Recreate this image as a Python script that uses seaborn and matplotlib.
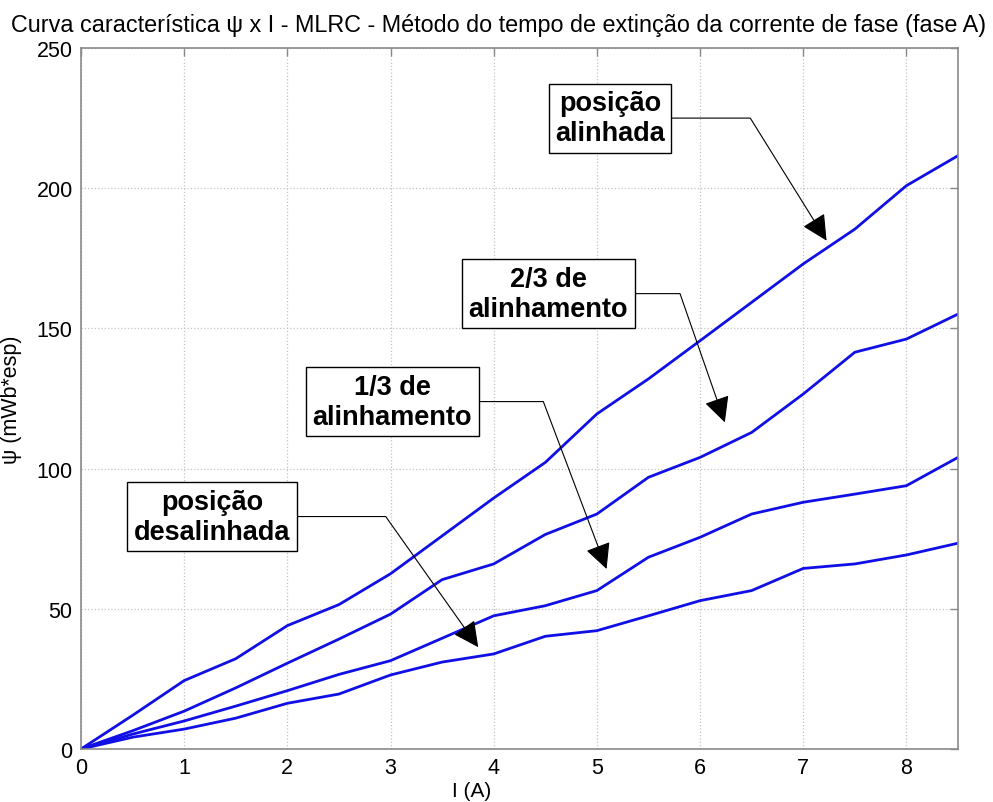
import numpy as np
import pandas as pd
import matplotlib
matplotlib.use("Agg")
import matplotlib.pyplot as plt
import seaborn as sns

# ---- data ----
corrente = [0, 0.5, 1, 1.5, 2, 2.5, 3, 3.5, 4, 4.5, 5, 5.5, 6, 6.5, 7, 7.5, 8, 8.5]
psi_alinhada = [0, 12, 24.4, 32.2, 44, 51.5, 62.5, 76, 89.5, 102.2, 119.5, 132, 145.6, 159.3, 173, 185.4, 200.9, 211.6]
psi_2_3 = [0, 6.5, 13.5, 21.8, 30.6, 39.2, 48.1, 60.4, 66, 76.5, 83.8, 96.9, 104, 112.9, 126.6, 141.5, 146.2, 155.1]
psi_1_3 = [0, 5.3, 10, 15.3, 20.8, 26.6, 31.5, 39.5, 47.5, 51.1, 56.5, 68.4, 75.5, 83.8, 88, 90.9, 93.9, 104]
psi_desalinhada = [0, 4.2, 7.1, 11, 16.3, 19.6, 26.4, 31, 33.9, 40.2, 42.2, 47.5, 52.9, 56.5, 64.4, 66, 69.2, 73.4]

curvas = ["posição alinhada", "2/3 de alinhamento", "1/3 de alinhamento", "posição desalinhada"]
series = [psi_alinhada, psi_2_3, psi_1_3, psi_desalinhada]

x_ticks = [0, 1, 2, 3, 4, 5, 6, 7, 8]
y_ticks = [0, 50, 100, 150, 200, 250]

titulo = "Curva característica ψ x I - MLRC - Método do tempo de extinção da corrente de fase (fase A)"
xlabel = "I (A)"
ylabel = "ψ (mWb*esp)"

# annotation labels
rot_alinhada = "posição\nalinhada"
rot_2_3 = "2/3 de\nalinhamento"
rot_1_3 = "1/3 de\nalinhamento"
rot_desalinhada = "posição\ndesalinhada"

# ---- build long-form table ----
df = pd.concat([
    pd.DataFrame({"I": corrente, "psi": s, "curva": c}) for c, s in zip(curvas, series)
], ignore_index=True)

sns.set_theme(style="white")
plt.rcParams["font.family"] = ["Liberation Sans", "DejaVu Sans"]
plt.rcParams["text.color"] = "black"

fig = plt.figure(figsize=(9.93, 8.03), dpi=100)
ax = fig.add_axes([81 / 993, 53 / 803, 877 / 993, 701 / 803])

azul = "#1010e6"
sns.lineplot(data=df, x="I", y="psi", hue="curva", palette=[azul] * 4,
             legend=False, sort=False, estimator=None, linewidth=2.0, ax=ax)

ax.set_xlim(0, 8.5)
ax.set_ylim(0, 250)
ax.set_xticks(x_ticks)
ax.set_yticks(y_ticks)
ax.grid(True, color="#c4c4c4", linestyle=":", linewidth=0.9)

for sp in ax.spines.values():
    sp.set_visible(True)
    sp.set_color("#8a8a8a")
    sp.set_linewidth(1.2)
ax.tick_params(direction="in", length=6, width=1, color="#8a8a8a",
               top=True, right=True, labelsize=15.5, labelcolor="black", pad=6)

ax.set_xlabel(xlabel, fontsize=15, color="black")
ax.xaxis.set_label_coords(0.445, -0.045)
ax.set_ylabel(ylabel, fontsize=15.5, color="black")
ax.yaxis.set_label_coords(-0.067, 0.5)
fig.text(499 / 993, 1 - 32 / 803, titulo, fontsize=16.8, color="black",
         ha="center", va="baseline")

box = dict(boxstyle="square,pad=0.24", fc="white", ec="black", lw=1)

def anota(txt, tip, centro, ang):
    ax.annotate(txt, xy=tip, xytext=centro, textcoords="data",
                ha="center", va="center", fontsize=19.5, fontweight="bold",
                color="black", linespacing=1.2, bbox=box, zorder=5,
                arrowprops=dict(arrowstyle="-|>,head_length=0.8,head_width=0.4",
                                mutation_scale=20, color="black", lw=0.8,
                                connectionstyle=f"angle,angleA=0,angleB={ang},rad=0",
                                relpos=(1, 0.5), shrinkA=0, shrinkB=0))

anota(rot_alinhada, (7.226, 181.3), (5.126, 225.0), 121.9)
anota(rot_2_3, (6.240, 116.5), (4.530, 162.4), 109.2)
anota(rot_1_3, (5.094, 64.2), (3.018, 123.9), 110.7)
anota(rot_desalinhada, (3.85, 36.3), (1.269, 82.9), 125.3)

fig.savefig("out.png", dpi=100)
